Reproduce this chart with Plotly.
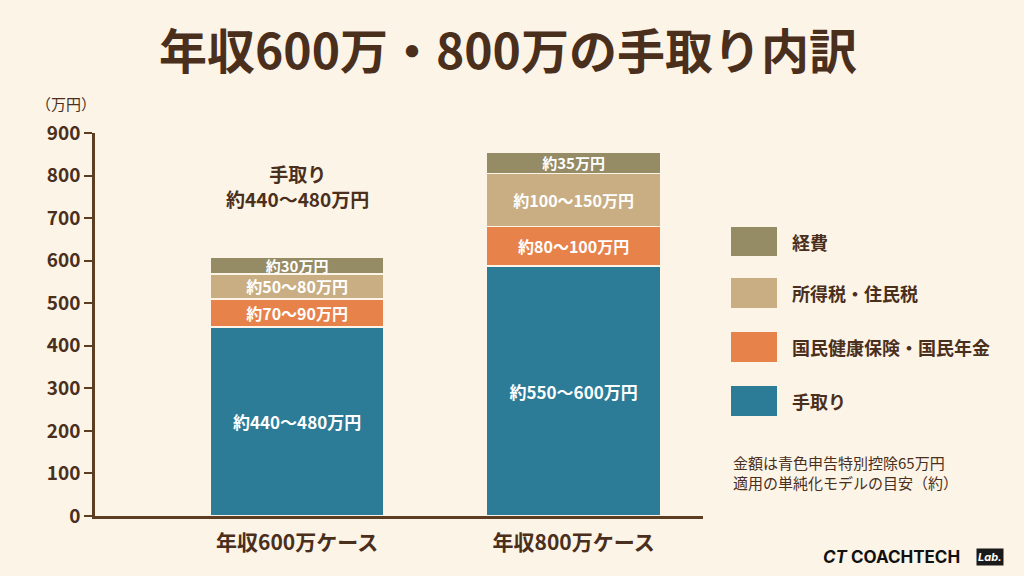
import plotly.graph_objects as go

# データ（万円、画像から読み取った概算値）
cases = ["年収600万ケース", "年収800万ケース"]
tedori = [444, 587]
kokuho = [66, 93]
zei = [59, 125]
keihi = [39, 50]

tedori_txt = ["約440～480万円", "約550～600万円"]
kokuho_txt = ["約70～90万円", "約80～100万円"]
zei_txt = ["約50～80万円", "約100～150万円"]
keihi_txt = ["約30万円", "約35万円"]

y_ticks = [0, 100, 200, 300, 400, 500, 600, 700, 800, 900]

series_names = ["手取り", "国民健康保険・国民年金", "所得税・住民税", "経費"]
colors = ["#2C7B97", "#E8824B", "#C9AE84", "#958B65"]

BG = "#FCF4E7"
DARK = "#4A2F1C"
AXIS = "#5E3E22"
FONT = "Noto Sans CJK JP"

# ページ本文の余白（8px）を差し引いた図の大きさ
OFF = 8
W, H = 1024 - 2 * OFF, 576 - 2 * OFF

# プロット領域（画面ピクセル）
L, R, T, B = 95, 703, 133, 516


def px(x):
    return (x - L) / (R - L)


def py(y):
    return (B - y) / (B - T)


fig = go.Figure()

seg_values = [tedori, kokuho, zei, keihi]
seg_texts = [tedori_txt, kokuho_txt, zei_txt, keihi_txt]
seg_sizes = [17, 16, 16, 15]

for i in range(len(series_names)):
    fig.add_trace(go.Bar(
        x=cases,
        y=seg_values[i],
        name=series_names[i],
        marker=dict(color=colors[i], line=dict(color=BG, width=1.5)),
        text=[f"<b>{t}</b>" for t in seg_texts[i]],
        textposition="inside",
        insidetextanchor="middle",
        constraintext="none",
        textfont=dict(color="white", size=seg_sizes[i], family=FONT),
        width=0.63,
        showlegend=False,
        hoverinfo="skip",
    ))

# 棒の上の手取り注記
top_labels = ["<b>手取り<br>約440～480万円</b>", "<b>手取り<br>約550～600万円</b>"]
top_y = [775, 935]
for i in range(len(cases)):
    fig.add_annotation(x=i, y=top_y[i], text=top_labels[i], showarrow=False,
                       xref="x", yref="y", yanchor="middle",
                       font=dict(size=19, color=DARK, family=FONT))

# 凡例（右側）
legend_rows = [
    ("経費", colors[3], 227, 256),
    ("所得税・住民税", colors[2], 278, 308),
    ("国民健康保険・国民年金", colors[1], 332, 362),
    ("手取り", colors[0], 386, 416),
]
for name, col, y0, y1 in legend_rows:
    fig.add_shape(type="rect", xref="paper", yref="paper",
                  x0=px(731), x1=px(777), y0=py(y1), y1=py(y0),
                  fillcolor=col, line=dict(width=0))
    fig.add_annotation(xref="paper", yref="paper", x=px(790), y=py((y0 + y1) / 2),
                       text=f"<b>{name}</b>", showarrow=False, xanchor="left",
                       yanchor="middle", font=dict(size=18, color=DARK, family=FONT))

fig.add_annotation(xref="paper", yref="paper", x=px(731), y=py(472),
                   text="金額は青色申告特別控除65万円<br>適用の単純化モデルの目安（約）",
                   showarrow=False, xanchor="left", yanchor="middle", align="left",
                   font=dict(size=15, color=DARK, family=FONT))

# 単位
fig.add_annotation(xref="paper", yref="paper", x=px(66), y=py(104),
                   text="（万円）", showarrow=False, xanchor="center", yanchor="middle",
                   font=dict(size=15, color=DARK, family=FONT))

# ロゴ
fig.add_annotation(xref="paper", yref="paper", x=px(962), y=py(557),
                   text="<b><i>CT</i> COACHTECH</b>", showarrow=False,
                   xanchor="right", yanchor="middle",
                   font=dict(size=17, color="#111111", family="Inter"))
fig.add_annotation(xref="paper", yref="paper", x=px(990), y=py(557),
                   text="<b><i>Lab.</i></b>", showarrow=False,
                   xanchor="center", yanchor="middle", bgcolor="#1A1A1A",
                   borderpad=1,
                   font=dict(size=11, color="white", family="Inter"))

# タイトル（注記として配置）
fig.add_annotation(xref="paper", yref="paper", x=px(508), y=py(48),
                   text="<b>年収600万・800万の手取り内訳</b>", showarrow=False,
                   xanchor="center", yanchor="middle",
                   font=dict(size=48, color=DARK, family=FONT))

fig.update_layout(
    barmode="stack",
    width=W, height=H,
    margin=dict(l=L - OFF, r=W - (R - OFF), t=T - OFF, b=H - (B - OFF)),
    paper_bgcolor=BG,
    plot_bgcolor=BG,
    font=dict(family=FONT, color=DARK),
    xaxis=dict(range=[-0.731, 1.468], showgrid=False, zeroline=False,
               showline=True, linecolor=AXIS, linewidth=2.5,
               tickvals=cases, ticktext=[f"<b>{c}</b>" for c in cases],
               ticks="", tickfont=dict(size=21, color=DARK, family=FONT),
               ticklabelstandoff=6, fixedrange=True),
    yaxis=dict(range=[0, 900], showgrid=False, zeroline=False,
               showline=True, linecolor=AXIS, linewidth=2.5,
               tickvals=y_ticks, ticktext=[f"<b>{v}</b>" for v in y_ticks],
               ticks="outside", ticklen=8, tickwidth=2, tickcolor=AXIS,
               tickfont=dict(size=19, color=DARK, family=FONT),
               fixedrange=True),
)

# ページの余白も背景色にそろえる
fig.write_html("out.html",
               post_script=f"document.body.style.backgroundColor='{BG}';")
